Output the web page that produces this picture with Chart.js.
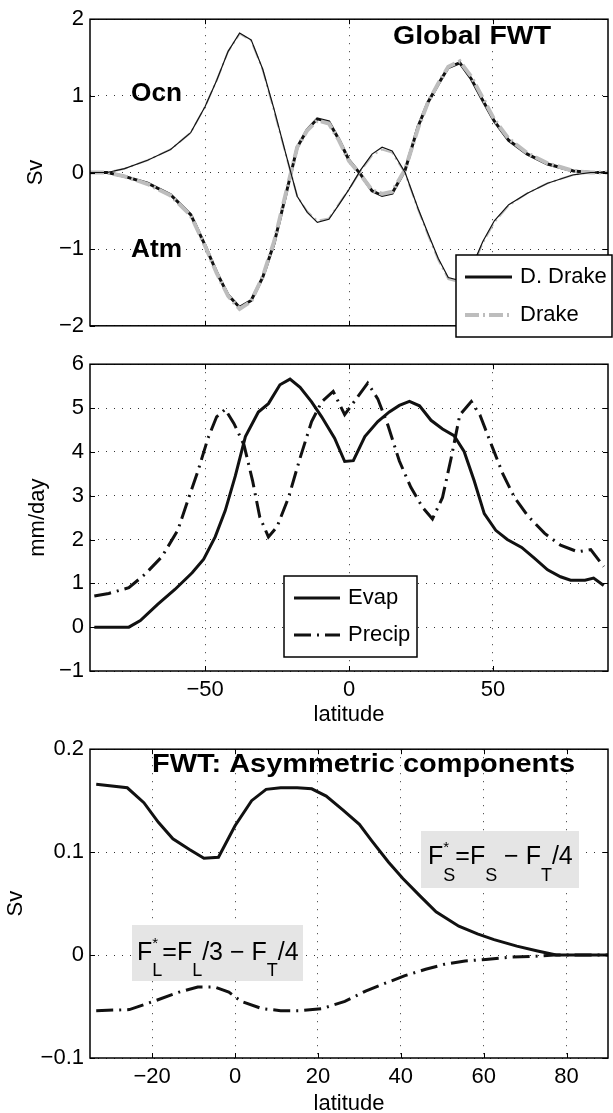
<!DOCTYPE html>
<html>
<head>
<meta charset="utf-8">
<title>Global FWT</title>
<script src="https://cdn.jsdelivr.net/npm/chart.js@4.4.1/dist/chart.umd.min.js"></script>
<style>
  html, body { margin: 0; padding: 0; background: #fff; overflow: hidden; }
  #page { position: relative; width: 613px; height: 1113px; }
  canvas { position: absolute; left: 0; }
</style>
</head>
<body>
<div id="page">
  <canvas id="fwt" width="613" height="345" style="top:0px"></canvas>
  <canvas id="evp" width="613" height="385" style="top:345px"></canvas>
  <canvas id="asym" width="613" height="390" style="top:730px"></canvas>
</div>
<script>
/* global Chart */

// --- top panel: global FWT (Sv) ---
const latFWT = [-90, -84, -78, -70, -62, -55, -50, -46, -42, -38,
  -34, -30, -26, -22, -18, -14.5, -11, -7, -3.5, 0,
  4, 8, 11.5, 15, 19.5, 24, 27.5, 31, 34.5, 38.5,
  42.5, 46.5, 50.5, 55.5, 62, 69, 78, 84, 90];
const ocnDDrake = [0, 0, 0.05, 0.16, 0.3, 0.52, 0.86, 1.2, 1.58, 1.82,
  1.73, 1.35, 0.82, 0.25, -0.31, -0.52, -0.65, -0.61, -0.42, -0.22,
  0.03, 0.24, 0.33, 0.28, 0, -0.47, -0.8, -1.12, -1.37, -1.41,
  -1.25, -0.9, -0.63, -0.42, -0.27, -0.14, -0.03, 0, 0];
const ocnDrake = [0, 0, 0.05, 0.16, 0.3, 0.52, 0.86, 1.2, 1.58, 1.81,
  1.72, 1.34, 0.8, 0.24, -0.31, -0.51, -0.63, -0.6, -0.41, -0.22,
  0.02, 0.22, 0.3, 0.26, -0.01, -0.48, -0.82, -1.14, -1.39, -1.43,
  -1.27, -0.92, -0.65, -0.43, -0.27, -0.14, -0.03, 0, 0];
const atmDDrake = [0, 0, -0.05, -0.14, -0.29, -0.55, -0.95, -1.3, -1.6, -1.76,
  -1.67, -1.37, -0.92, -0.3, 0.33, 0.56, 0.7, 0.66, 0.43, 0.16,
  -0.02, -0.24, -0.3, -0.27, 0.03, 0.6, 0.92, 1.15, 1.37, 1.43,
  1.22, 0.94, 0.67, 0.42, 0.24, 0.11, 0.02, 0, 0];
const atmDrake = [0, 0, -0.05, -0.15, -0.3, -0.56, -0.96, -1.31, -1.61, -1.78,
  -1.68, -1.36, -0.9, -0.28, 0.33, 0.55, 0.68, 0.64, 0.42, 0.15,
  -0.03, -0.23, -0.28, -0.25, 0.04, 0.58, 0.92, 1.16, 1.38, 1.45,
  1.25, 0.97, 0.69, 0.44, 0.25, 0.12, 0.02, 0, 0];
const fwtYTicks = [-2, -1, 0, 1, 2];
const latTicks = [-50, 0, 50];

// --- middle panel: evaporation / precipitation (mm/day) ---
const latEvap = [-88.5, -76.5, -72.5, -66.5, -60.5, -54.5, -50.5, -46.5, -43, -39.5,
  -36, -31.5, -28, -24, -20.5, -17, -13, -9.5, -5, -1.5,
  1.5, 5.5, 10, 14, 17.5, 21, 24.5, 28.5, 32.5, 36.5,
  40, 43.5, 47, 51, 55, 60, 64.5, 69, 73.5, 77,
  82, 85, 88.5];
const evap = [0, 0, 0.15, 0.52, 0.86, 1.24, 1.55, 2.06, 2.66, 3.45,
  4.35, 4.91, 5.1, 5.53, 5.66, 5.47, 5.14, 4.8, 4.31, 3.78,
  3.8, 4.35, 4.69, 4.91, 5.06, 5.15, 5.05, 4.72, 4.52, 4.37,
  4.01, 3.34, 2.59, 2.21, 2.0, 1.82, 1.57, 1.31, 1.15, 1.07,
  1.07, 1.12, 0.95];
const latPrecip = [-88.5, -83.5, -76.5, -71, -65, -59.5, -56, -52.5, -49, -46,
  -43, -40, -36.5, -33.5, -31, -28, -25, -21, -17, -13,
  -9.5, -5.5, -1.5, 6.5, 10, 13.5, 17.5, 21.5, 25.5, 29,
  32.5, 35.5, 38.5, 42.5, 45.5, 49.5, 53.5, 57.5, 62, 68,
  73.5, 79.5, 84, 88.5];
const precip = [0.71, 0.77, 0.9, 1.2, 1.61, 2.21, 2.89, 3.56, 4.31, 4.8,
  4.97, 4.65, 4.16, 3.34, 2.51, 2.06, 2.29, 2.96, 3.86, 4.69,
  5.14, 5.38, 4.85, 5.57, 5.21, 4.61, 3.79, 3.19, 2.74, 2.47,
  2.96, 3.86, 4.84, 5.15, 4.84, 4.16, 3.49, 2.96, 2.55, 2.14,
  1.87, 1.72, 1.77, 1.38];
const mmTicks = [-1, 0, 1, 2, 3, 4, 5, 6];

// --- bottom panel: asymmetric components (Sv) ---
const latFS = [-33.5, -26, -22, -18.5, -15, -11, -7.5, -4, 0, 4,
  7.5, 11, 15, 18.5, 22, 26, 30, 33, 37, 40.5,
  44.5, 48.5, 54, 58.5, 62.5, 68, 73, 77.5, 90];
const fsStar = [0.166, 0.1625, 0.148, 0.129, 0.113, 0.1026, 0.094, 0.095, 0.1257, 0.15,
  0.161, 0.1625, 0.1625, 0.1615, 0.1545, 0.141, 0.127, 0.111, 0.0904, 0.0744,
  0.058, 0.042, 0.028, 0.0205, 0.015, 0.0087, 0.0039, 0, 0];
const latFL = [-33.5, -25.5, -19, -13.5, -9, -5, -1.5, 1.5, 6.5, 11,
  16, 21, 26.5, 31.5, 36.5, 41, 46, 50.5, 55.5, 60.5,
  66.5, 73, 77, 90];
const flStar = [-0.054, -0.053, -0.044, -0.036, -0.031, -0.031, -0.036, -0.045, -0.052, -0.054,
  -0.054, -0.052, -0.045, -0.035, -0.027, -0.02, -0.0138, -0.009, -0.0058, -0.0042,
  -0.002, -0.001, 0, 0];
const asymYTicks = [-0.1, 0, 0.1, 0.2];
const asymXTicks = [-20, 0, 20, 40, 60, 80];

const FONT = '"Liberation Sans", Arial, Helvetica, sans-serif';
Chart.defaults.font.family = FONT;
Chart.defaults.font.size = 22;
Chart.defaults.color = '#000';

const INK = '#111';
const GRAY = '#bdbdbd';
const DASHDOT = [17, 6, 2, 6];
const GRAY_DASH = [14, 4, 2, 4];

function pts(xs, ys) {
  return xs.map((x, i) => ({ x: x, y: ys[i] }));
}

function minus(v) {
  return String(v).replace('-', '\u2212');
}

function line(label, xs, ys, color, width, dash, order) {
  return {
    label: label,
    data: pts(xs, ys),
    borderColor: color,
    borderWidth: width,
    borderDash: dash,
    pointRadius: 0,
    tension: 0,
    fill: false,
    order: order
  };
}

// matlab-ish axes: dotted grid, fixed gutter so the three panels line up
function baseOptions(o) {
  return {
    responsive: false,
    animation: false,
    devicePixelRatio: 1,
    layout: { padding: { left: 0, right: 5, top: o.top, bottom: 0 } },
    plugins: { legend: { display: false }, tooltip: { enabled: false } },
    scales: {
      x: {
        type: 'linear',
        min: o.xMin,
        max: o.xMax,
        afterBuildTicks: (s) => { s.ticks = o.xTicks.map(v => ({ value: v })); },
        afterFit: (s) => { s.height = o.xHeight; },
        grid: { color: '#333', lineWidth: 1, drawTicks: false },
        border: { display: false, dash: [1, 7] },
        ticks: { display: o.xLabels, padding: 6, autoSkip: false, maxRotation: 0, callback: (v) => minus(v) },
        title: { display: !!o.xTitle, text: o.xTitle || '', padding: { top: 0, bottom: o.xTitlePad || 0 } }
      },
      y: {
        type: 'linear',
        min: o.yMin,
        max: o.yMax,
        afterBuildTicks: (s) => { s.ticks = o.yTicks.map(v => ({ value: v })); },
        afterFit: (s) => { s.width = 90; },
        grid: { color: '#333', lineWidth: 1, drawTicks: false },
        border: { display: false, dash: [1, 7] },
        ticks: { padding: 6, autoSkip: false, callback: (v) => minus(v) },
        title: { display: true, text: o.yTitle, padding: { top: o.yTitlePad, bottom: 0 } }
      }
    }
  };
}

// box round the axes with inward tick marks on all four sides
const frame = {
  id: 'frame',
  afterDatasetsDraw(chart) {
    const { ctx, chartArea: a, scales } = chart;
    const t = 5;
    ctx.save();
    ctx.strokeStyle = '#000';
    ctx.lineWidth = 1;
    ctx.beginPath();
    scales.x.ticks.forEach(tk => {
      const px = Math.round(scales.x.getPixelForValue(tk.value)) + 0.5;
      ctx.moveTo(px, a.bottom); ctx.lineTo(px, a.bottom - t);
      ctx.moveTo(px, a.top); ctx.lineTo(px, a.top + t);
    });
    scales.y.ticks.forEach(tk => {
      const py = Math.round(scales.y.getPixelForValue(tk.value)) + 0.5;
      ctx.moveTo(a.left, py); ctx.lineTo(a.left + t, py);
      ctx.moveTo(a.right, py); ctx.lineTo(a.right - t, py);
    });
    ctx.stroke();
    ctx.lineWidth = 1.5;
    ctx.strokeRect(a.left, a.top, a.right - a.left, a.bottom - a.top);
    ctx.restore();
  }
};

// legend in a white box, samples taken from the datasets themselves
function boxLegend(box) {
  return {
    id: 'boxLegend',
    afterDraw(chart) {
      const ctx = chart.ctx;
      ctx.save();
      ctx.fillStyle = '#fff';
      ctx.fillRect(box.x, box.y, box.w, box.h);
      ctx.strokeStyle = '#000';
      ctx.lineWidth = 1.5;
      ctx.strokeRect(box.x, box.y, box.w, box.h);
      box.rows.forEach((idx, r) => {
        const ds = chart.data.datasets[idx];
        const y = box.y + box.rowY[r];
        ctx.strokeStyle = ds.borderColor;
        ctx.lineWidth = ds.borderWidth;
        ctx.setLineDash(ds.borderDash);
        ctx.beginPath();
        ctx.moveTo(box.x + box.s0, y);
        ctx.lineTo(box.x + box.s1, y);
        ctx.stroke();
        ctx.setLineDash([]);
        ctx.fillStyle = '#000';
        ctx.font = '22px ' + FONT;
        ctx.textBaseline = 'middle';
        ctx.textAlign = 'left';
        ctx.fillText(ds.label, box.x + box.tx, y);
      });
      ctx.restore();
    }
  };
}

// bold labels (stretched to the width they take in the figure) and grey formula boxes
function notes(labels, formulas) {
  return {
    id: 'notes',
    afterDraw(chart) {
      const ctx = chart.ctx;
      ctx.save();
      ctx.fillStyle = '#000';
      ctx.textAlign = 'left';
      labels.forEach(n => {
        ctx.font = 'bold 26px ' + FONT;
        ctx.textBaseline = 'middle';
        const k = n.w / ctx.measureText(n.text).width;
        ctx.save();
        ctx.translate(n.x, n.y);
        ctx.scale(k, 1);
        ctx.fillText(n.text, 0, 0);
        ctx.restore();
      });
      formulas.forEach(f => {
        ctx.fillStyle = '#e5e5e5';
        ctx.fillRect(f.box[0], f.box[1], f.box[2], f.box[3]);
        ctx.fillStyle = '#000';
        ctx.textBaseline = 'alphabetic';
        let cx = f.x;
        f.parts.forEach(p => {
          ctx.font = '25px ' + FONT;
          ctx.fillText(p.t, cx, f.y);
          cx += ctx.measureText(p.t).width;
          let w = 0;
          if (p.sup) {
            ctx.font = '15px ' + FONT;
            ctx.fillText(p.sup, cx, f.y - 12);
            w = ctx.measureText(p.sup).width;
          }
          if (p.sub) {
            ctx.font = '18px ' + FONT;
            ctx.fillText(p.sub, cx, f.y + f.subDy);
            w = Math.max(w, ctx.measureText(p.sub).width);
          }
          cx += w;
        });
      });
      ctx.restore();
    }
  };
}

new Chart(document.getElementById('fwt'), {
  type: 'line',
  data: {
    datasets: [
      line('Ocn D. Drake', latFWT, ocnDDrake, INK, 1.2, [], 0),
      line('Ocn Drake', latFWT, ocnDrake, GRAY, 2, GRAY_DASH, 1),
      line('Drake', latFWT, atmDrake, GRAY, 4, GRAY_DASH, 2),
      line('D. Drake', latFWT, atmDDrake, INK, 3, [], 3)
    ]
  },
  options: baseOptions({
    top: 15, xMin: -90, xMax: 90, xTicks: latTicks, xLabels: false, xHeight: 18,
    yMin: -2, yMax: 2, yTicks: fwtYTicks, yTitle: 'Sv', yTitlePad: 23
  }),
  plugins: [
    frame,
    boxLegend({ x: 456, y: 255, w: 156, h: 82, rows: [3, 2], rowY: [22, 60], s0: 9, s1: 56, tx: 64 }),
    notes([
      { text: 'Global FWT', x: 393, y: 37, w: 158 },
      { text: 'Ocn', x: 131, y: 94, w: 51 },
      { text: 'Atm', x: 131, y: 250, w: 51 }
    ], [])
  ]
});

new Chart(document.getElementById('evp'), {
  type: 'line',
  data: {
    datasets: [
      line('Evap', latEvap, evap, INK, 3, [], 0),
      line('Precip', latPrecip, precip, INK, 3, DASHDOT, 1)
    ]
  },
  options: baseOptions({
    top: 15, xMin: -90, xMax: 90, xTicks: latTicks, xLabels: true, xHeight: 59,
    xTitle: 'latitude', xTitlePad: 2,
    yMin: -1, yMax: 6, yTicks: mmTicks, yTitle: 'mm/day', yTitlePad: 25
  }),
  plugins: [
    frame,
    boxLegend({ x: 284, y: 231, w: 133, h: 81, rows: [0, 1], rowY: [22, 59], s0: 10, s1: 56, tx: 64 }),
    notes([], [])
  ]
});

new Chart(document.getElementById('asym'), {
  type: 'line',
  data: {
    datasets: [
      line('F*S', latFS, fsStar, INK, 3, [], 0),
      line('F*L', latFL, flStar, INK, 3, DASHDOT, 1)
    ]
  },
  options: baseOptions({
    top: 18, xMin: -35, xMax: 90, xTicks: asymXTicks, xLabels: true, xHeight: 62,
    xTitle: 'latitude', xTitlePad: 3,
    yMin: -0.1, yMax: 0.2, yTicks: asymYTicks, yTitle: 'Sv', yTitlePad: 3
  }),
  plugins: [
    frame,
    notes([
      { text: 'FWT: Asymmetric components', x: 152, y: 35, w: 423 }
    ], [
      {
        box: [421, 101, 158, 57], x: 428, y: 134, subDy: 17,
        parts: [{ t: 'F', sup: '*', sub: 'S' }, { t: '=F', sub: 'S' }, { t: ' \u2212 F', sub: 'T' }, { t: '/4' }]
      },
      {
        box: [132, 195, 171, 56], x: 137, y: 230, subDy: 16,
        parts: [{ t: 'F', sup: '*', sub: 'L' }, { t: '=F', sub: 'L' }, { t: '/3 \u2212 F', sub: 'T' }, { t: '/4' }]
      }
    ])
  ]
});
</script>
</body>
</html>
